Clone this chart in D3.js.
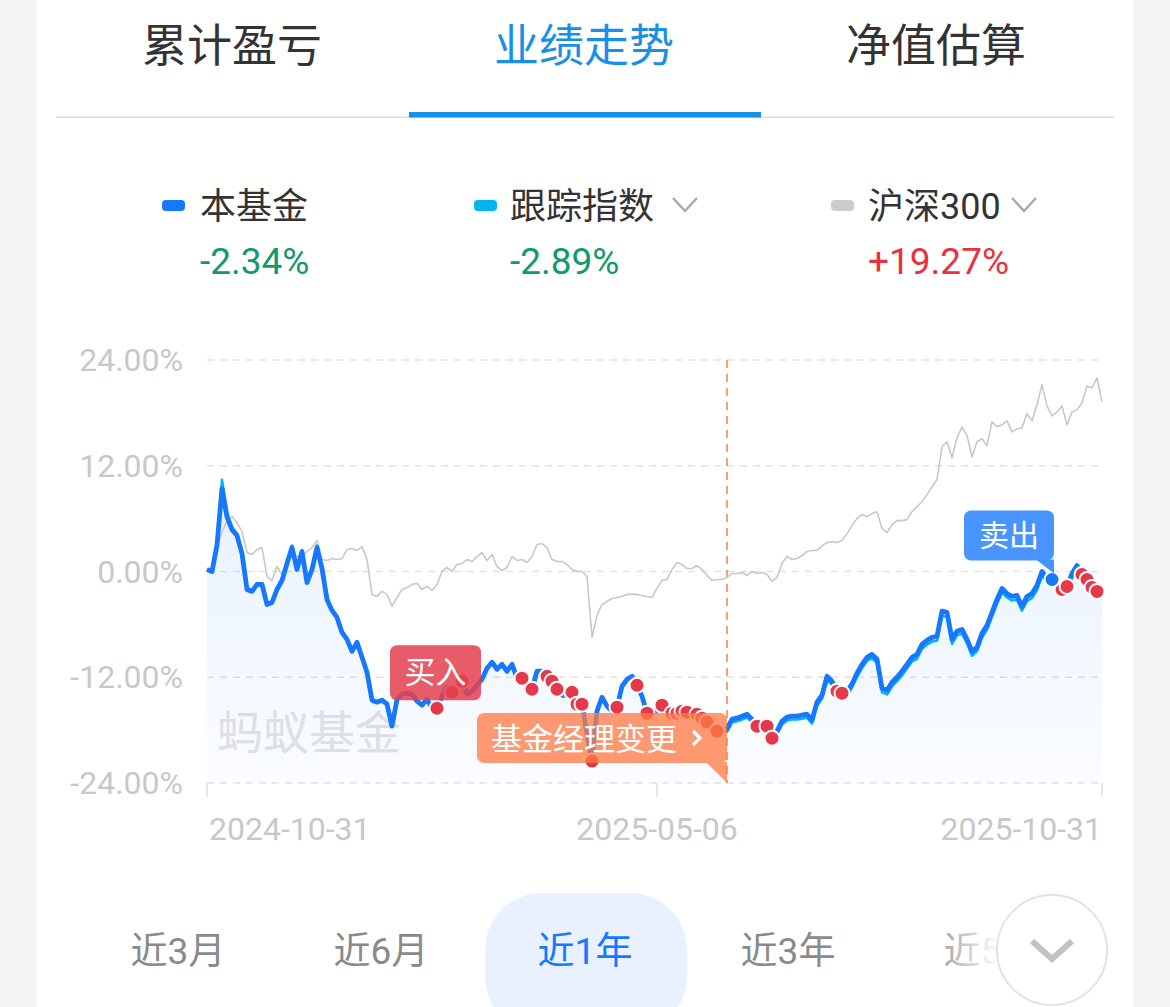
<!DOCTYPE html>
<html>
<head>
<meta charset="utf-8">
<script src="https://cdn.jsdelivr.net/npm/d3@7"></script>
<style>
  html, body { margin: 0; padding: 0; background: #f4f4f4; }
  svg { display: block; }
</style>
</head>
<body>
<svg id="chart" width="1170" height="1007"></svg>
<script>
// ---- data ----
const tabs = ["累计盈亏", "业绩走势", "净值估算"];
const activeTab = 1;

const seriesNames = ["本基金", "跟踪指数", "沪深300"];
const seriesReturns = ["-2.34%", "-2.89%", "+19.27%"];

const yTicks = [24, 12, 0, -12, -24];
const xTickDays = [0, 90, 179];
const xTickLabels = ["2024-10-31", "2025-05-06", "2025-10-31"];

// cumulative return (%) per trading day
const fund = [
  0.23, 0.00, 3.00, 9.40, 6.20, 4.75, 4.08, 2.04, -2.04, -2.26,
  -1.47, -1.47, -3.74, -3.51, -2.04, -1.02, 0.91, 2.72, 0.23, 2.26,
  -1.25, 0.23, 2.72, 0.34, -3.17, -4.42, -5.21, -6.91, -7.70, -9.06,
  -8.04, -9.74, -11.43, -14.60, -14.83, -14.60, -15.06, -17.55, -14.49, -13.92,
  -13.81, -13.92, -14.72, -15.17, -14.49, -15.51, -15.51, -14.15, -13.13, -13.70,
  -13.13, -12.45, -13.92, -13.58, -12.91, -12.23, -10.98, -10.30, -11.09, -10.53,
  -11.32, -10.53, -12.11, -12.11, -12.91, -13.36, -11.32, -11.32, -11.89, -12.45,
  -13.36, -14.04, -14.04, -13.70, -15.06, -15.06, -18.45, -21.51, -15.85, -14.26,
  -15.28, -15.85, -15.40, -13.02, -12.23, -11.89, -12.91, -14.15, -16.08, -16.08,
  -15.74, -15.17, -15.62, -16.08, -16.08, -15.85, -15.96, -15.85, -16.19, -16.64,
  -17.09, -17.55, -18.11, -17.89, -17.89, -16.75, -16.64, -16.42, -16.19, -16.75,
  -17.55, -17.09, -17.55, -18.91, -18.11, -16.98, -16.53, -16.42, -16.42, -16.30,
  -16.19, -16.87, -14.83, -14.04, -11.89, -12.45, -13.58, -13.81, -13.58, -12.79,
  -11.55, -10.53, -9.74, -9.40, -9.96, -13.25, -13.47, -12.57, -12.00, -11.32,
  -10.53, -9.74, -9.40, -8.26, -7.81, -7.47, -7.36, -4.50, -4.64, -7.70,
  -6.79, -6.57, -7.70, -9.06, -8.60, -7.02, -6.11, -4.64, -3.17, -1.92,
  -2.49, -2.83, -2.72, -3.96, -2.83, -2.49, -1.58, 0.00, -0.79, -0.91,
  -1.36, -2.04, -1.70, -0.23, 0.68, -0.34, -0.91, -1.81, -2.26, -2.34
];

const tracking = [
  0.23, 0.00, 3.20, 10.40, 6.70, 5.00, 4.30, 2.20, -1.90, -2.10,
  -1.35, -1.40, -3.60, -3.40, -1.90, -0.90, 1.05, 2.95, 0.35, 2.40,
  -1.10, 0.35, 2.95, 0.45, -3.05, -4.30, -5.10, -6.80, -7.60, -8.95,
  -7.95, -9.65, -11.35, -14.50, -14.75, -14.55, -15.00, -17.45, -14.45, -13.90,
  -13.80, -13.90, -14.70, -15.15, -14.50, -15.50, -15.50, -14.15, -13.15, -13.70,
  -13.15, -12.50, -13.95, -13.60, -12.95, -12.30, -11.05, -10.40, -11.15, -10.60,
  -11.40, -10.60, -12.15, -12.20, -12.95, -13.40, -11.40, -11.40, -11.95, -12.50,
  -13.45, -14.10, -14.10, -13.80, -15.15, -15.15, -18.60, -21.80, -16.00, -14.40,
  -15.40, -15.95, -15.50, -13.15, -12.35, -12.00, -13.05, -14.30, -16.25, -16.25,
  -15.90, -15.35, -15.80, -16.25, -16.25, -16.05, -16.15, -16.05, -16.40, -16.85,
  -17.35, -17.80, -18.40, -18.20, -18.20, -17.10, -17.00, -16.80, -16.55, -17.10,
  -17.90, -17.45, -17.90, -19.30, -18.50, -17.35, -16.90, -16.80, -16.80, -16.70,
  -16.60, -17.25, -15.25, -14.45, -12.30, -12.85, -13.95, -14.20, -13.95, -13.20,
  -11.95, -10.95, -10.15, -9.85, -10.40, -13.70, -13.95, -13.05, -12.45, -11.80,
  -11.00, -10.20, -9.90, -8.75, -8.30, -7.95, -7.85, -5.00, -5.15, -8.20,
  -7.25, -7.05, -8.15, -9.55, -9.05, -7.50, -6.60, -5.15, -3.65, -2.40,
  -2.95, -3.30, -3.20, -4.45, -3.35, -3.00, -2.10, -0.45, -1.30, -1.40,
  -1.85, -2.55, -2.20, -0.75, 0.15, -0.85, -1.45, -2.35, -2.80, -2.89
];

const hs300 = [
  0.23, 0.23, 2.72, 4.42, 5.77, 6.23, 5.55, 4.53, 2.15, 1.92,
  2.49, 2.72, -0.57, -1.02, 0.57, -0.34, 1.13, 2.04, 1.70, 1.58,
  2.26, 2.72, 3.51, 1.36, 1.25, 1.47, 1.36, 1.47, 2.49, 2.60,
  2.38, 2.83, 1.36, -2.60, -2.83, -2.26, -2.60, -3.96, -2.94, -2.04,
  -1.81, -1.47, -1.36, -2.04, -1.70, -2.15, -1.47, 0.00, 0.45, 0.00,
  0.79, 0.91, 1.36, 1.13, 1.70, 2.15, 1.25, 1.92, 0.57, 0.11,
  0.45, 1.70, 1.25, 1.36, 1.02, 1.70, 3.06, 3.17, 2.72, 1.36,
  1.13, 1.13, 0.79, 0.23, 0.00, 0.00, -0.57, -7.47, -4.98, -3.74,
  -3.40, -3.06, -2.94, -2.83, -2.60, -2.60, -2.60, -2.72, -2.83, -2.94,
  -1.92, -1.02, -0.91, 0.23, 1.02, 0.79, 0.34, 0.34, 0.68, 0.23,
  -0.45, -1.02, -0.91, -0.91, -0.68, -0.23, -0.23, -0.11, -0.45, 0.00,
  -0.23, -0.11, -0.34, -1.13, -0.68, 0.91, 1.70, 1.36, 1.47, 1.81,
  2.26, 2.38, 2.38, 2.94, 3.28, 3.40, 3.28, 3.51, 4.30, 5.21,
  6.00, 6.45, 6.23, 6.57, 6.79, 4.87, 4.42, 5.32, 5.77, 5.77,
  5.89, 6.79, 7.36, 7.92, 8.72, 9.62, 10.42, 14.15, 14.72, 12.91,
  15.17, 16.42, 15.40, 13.02, 14.72, 15.06, 14.26, 16.98, 16.42, 16.64,
  17.09, 15.85, 16.19, 16.30, 17.89, 17.09, 18.91, 21.20, 18.79, 17.66,
  18.11, 18.79, 16.64, 18.11, 18.34, 19.13, 21.06, 20.83, 21.96, 19.27
];

const buyDays = [46, 49, 51, 63, 65, 68, 69, 70, 73, 74, 75, 77, 82, 86, 88, 91, 93, 94,
  95, 96, 98, 99, 100, 102, 110, 112, 113, 126, 127, 171, 172, 175, 176, 177, 178];
const sellDays = [169];
const managerChangeDay = 104;

const periods = ["近3月", "近6月", "近1年", "近3年", "近5年"];
const activePeriod = 2;

// ---- drawing ----
const FONT = "Roboto, 'Noto Sans CJK SC', sans-serif";
const svg = d3.select("#chart").style("font-family", FONT);
const defs = svg.append("defs");

svg.append("rect").attr("width", 1170).attr("height", 1007).attr("fill", "#f4f4f4");
svg.append("rect").attr("x", 37).attr("width", 1096).attr("height", 1007).attr("fill", "#ffffff");

// tabs
const tabX = [232, 584, 936];
svg.selectAll("text.tab").data(tabs).join("text")
  .attr("class", "tab")
  .attr("x", (d, i) => tabX[i]).attr("y", 46)
  .attr("text-anchor", "middle").attr("dominant-baseline", "central")
  .attr("font-size", 45)
  .attr("fill", (d, i) => i === activeTab ? "#1a8fe6" : "#333333")
  .text(d => d);
svg.append("rect").attr("x", 56).attr("y", 116.5).attr("width", 1058).attr("height", 1.5).attr("fill", "#dcdcdc");
svg.append("rect").attr("x", 409).attr("y", 112).attr("width", 352).attr("height", 5.5).attr("fill", "#1a8fe6");

// legend
const legendColors = ["#1677ff", "#00b4f0", "#cccccc"];
const legendMarkX = [162, 474, 831];
const legendTextX = [200, 510, 868];
const legendChevron = [null, 673, 1012];
const returnColors = seriesReturns.map(s => s.startsWith("-") ? "#119a6b" : "#e8323f");
seriesNames.forEach((name, i) => {
  svg.append("rect").attr("x", legendMarkX[i]).attr("y", 200).attr("width", 23).attr("height", 11)
    .attr("rx", 4).attr("fill", legendColors[i]);
  svg.append("text").attr("x", legendTextX[i]).attr("y", 207)
    .attr("dominant-baseline", "central").attr("font-size", 36).attr("fill", "#333333").text(name);
  svg.append("text").attr("x", legendTextX[i]).attr("y", 261)
    .attr("dominant-baseline", "central").attr("font-size", 37).attr("fill", returnColors[i])
    .text(seriesReturns[i]);
  if (legendChevron[i] !== null) {
    const cx = legendChevron[i];
    svg.append("path").attr("d", `M${cx},198 L${cx + 12},211 L${cx + 24},198`)
      .attr("fill", "none").attr("stroke", "#a9a9a9").attr("stroke-width", 2.5);
  }
});

// scales
const x = d3.scaleLinear().domain([0, fund.length - 1]).range([207, 1102]);
const y = d3.scaleLinear().domain([-24, 24]).range([783, 360]);

// grid + y labels
const grid = svg.append("g");
grid.selectAll("line").data(yTicks).join("line")
  .attr("x1", x(0)).attr("x2", x(fund.length - 1))
  .attr("y1", d => y(d)).attr("y2", d => y(d))
  .attr("stroke", "#e2e2e2").attr("stroke-width", 1.5).attr("stroke-dasharray", "7,6");
grid.selectAll("text").data(yTicks).join("text")
  .attr("x", 183).attr("y", d => y(d))
  .attr("text-anchor", "end").attr("dominant-baseline", "central")
  .attr("font-size", 32).attr("fill", "#c8c8c8")
  .text(d => d.toFixed(2) + "%");

// x axis ticks + labels
const xAxis = svg.append("g");
xAxis.selectAll("line").data(xTickDays).join("line")
  .attr("x1", d => x(d)).attr("x2", d => x(d))
  .attr("y1", y(-24)).attr("y2", y(-24) + 14)
  .attr("stroke", "#dddddd").attr("stroke-width", 1.5);
xAxis.selectAll("text").data(xTickDays).join("text")
  .attr("x", (d, i) => x(d) + (i === 0 ? 2 : 0)).attr("y", 829)
  .attr("text-anchor", (d, i) => i === 0 ? "start" : (i === xTickDays.length - 1 ? "end" : "middle"))
  .attr("dominant-baseline", "central")
  .attr("font-size", 32).attr("fill", "#c8c8c8")
  .text((d, i) => xTickLabels[i]);

// watermark
svg.append("text").attr("x", 217).attr("y", 749)
  .attr("font-size", 46).attr("fill", "#e3e3e3").text("蚂蚁基金");

// area under fund line
const grad = defs.append("linearGradient").attr("id", "fundArea")
  .attr("gradientUnits", "userSpaceOnUse").attr("x1", 0).attr("x2", 0).attr("y1", 480).attr("y2", 783);
grad.append("stop").attr("offset", 0).attr("stop-color", "#1677ff").attr("stop-opacity", 0.1);
grad.append("stop").attr("offset", 1).attr("stop-color", "#1677ff").attr("stop-opacity", 0.02);
svg.append("path")
  .attr("d", d3.area().x((d, i) => x(i)).y0(y(-24)).y1(d => y(d))(fund))
  .attr("fill", "url(#fundArea)");

// manager change marker line
svg.append("line")
  .attr("x1", x(managerChangeDay)).attr("x2", x(managerChangeDay))
  .attr("y1", y(24)).attr("y2", y(-24))
  .attr("stroke", "#ff7a45").attr("stroke-width", 1.5).attr("stroke-dasharray", "8,6");

// series lines
const line = d3.line().x((d, i) => x(i)).y(d => y(d));
svg.append("path").attr("d", line(hs300)).attr("fill", "none")
  .attr("stroke", "#c8c8c8").attr("stroke-width", 1.6).attr("stroke-linejoin", "round");
svg.append("path").attr("d", line(tracking)).attr("fill", "none")
  .attr("stroke", "#00b4f0").attr("stroke-width", 2.6).attr("stroke-linejoin", "round");
svg.append("path").attr("d", line(fund)).attr("fill", "none")
  .attr("stroke", "#1677ff").attr("stroke-width", 4.8).attr("stroke-linejoin", "round");

// trade points
svg.selectAll("circle.buy").data(buyDays).join("circle")
  .attr("class", "buy")
  .attr("cx", d => x(d)).attr("cy", d => y(fund[d])).attr("r", 7.5)
  .attr("fill", "#e5394b").attr("stroke", "#ffffff").attr("stroke-width", 2);
svg.selectAll("circle.sell").data(sellDays).join("circle")
  .attr("class", "sell")
  .attr("cx", d => x(d)).attr("cy", d => y(fund[d])).attr("r", 7.5)
  .attr("fill", "#1677ff").attr("stroke", "#ffffff").attr("stroke-width", 2);

// tags
function tag(box, pointer, fill, opacity) {
  const g = svg.append("g").attr("opacity", opacity);
  g.append("rect").attr("x", box.x).attr("y", box.y).attr("width", box.w).attr("height", box.h)
    .attr("rx", 7).attr("fill", fill);
  if (pointer) g.append("path").attr("d", pointer).attr("fill", fill);
  return g;
}

// buy tag
{
  const ax = x(buyDays[0]), ay = y(fund[buyDays[0]]);
  const box = { x: ax - 47, y: ay - 63, w: 91, h: 55 };
  tag(box, null, "#e4404f", 0.86);
  svg.append("text").attr("x", box.x + box.w / 2).attr("y", box.y + box.h / 2)
    .attr("text-anchor", "middle").attr("dominant-baseline", "central")
    .attr("font-size", 31).attr("fill", "#ffffff").text("买入");
}

// manager change tag
{
  const ax = x(managerChangeDay), ay = y(-24);
  const box = { x: ax - 250, y: ay - 70, w: 250, h: 50 };
  const bottom = box.y + box.h;
  tag(box, `M${ax - 21},${bottom - 1} L${ax},${bottom - 1} L${ax},${ay} Z`, "#ff7a45", 0.76);
  svg.append("text").attr("x", box.x + 107).attr("y", box.y + box.h / 2 + 1)
    .attr("text-anchor", "middle").attr("dominant-baseline", "central")
    .attr("font-size", 31).attr("fill", "#ffffff").text("基金经理变更");
  svg.append("path")
    .attr("d", `M${box.x + 216},${box.y + 18} L${box.x + 223},${box.y + 25} L${box.x + 216},${box.y + 32}`)
    .attr("fill", "none").attr("stroke", "#ffffff").attr("stroke-width", 3.2);
}

// sell tag
{
  const ax = x(sellDays[0]), ay = y(fund[sellDays[0]]);
  const right = ax + 2;
  const box = { x: right - 90, y: ay - 69, w: 90, h: 50 };
  const bottom = box.y + box.h;
  tag(box, `M${right - 18},${bottom - 1} L${right},${bottom - 1} L${right},${ay - 6} Z`, "#1677ff", 0.78);
  svg.append("text").attr("x", box.x + box.w / 2).attr("y", box.y + box.h / 2)
    .attr("text-anchor", "middle").attr("dominant-baseline", "central")
    .attr("font-size", 30).attr("fill", "#ffffff").text("卖出");
}

// period selector
const periodX = [178, 381, 585, 788, 991];
svg.append("rect").attr("x", 485).attr("y", 893).attr("width", 202).attr("height", 140)
  .attr("rx", 57).attr("fill", "#e8f1fd");
svg.selectAll("text.period").data(periods).join("text")
  .attr("class", "period")
  .attr("x", (d, i) => periodX[i]).attr("y", 951)
  .attr("text-anchor", "middle").attr("dominant-baseline", "central")
  .attr("font-size", 37)
  .attr("fill", (d, i) => i === activePeriod ? "#1677ff" : "#8a8a8a")
  .text(d => d);

const fade = defs.append("linearGradient").attr("id", "fade").attr("x1", 0).attr("x2", 1).attr("y1", 0).attr("y2", 0);
fade.append("stop").attr("offset", 0).attr("stop-color", "#ffffff").attr("stop-opacity", 0);
fade.append("stop").attr("offset", 1).attr("stop-color", "#ffffff").attr("stop-opacity", 1);
svg.append("rect").attr("x", 925).attr("y", 890).attr("width", 75).attr("height", 117).attr("fill", "url(#fade)");
svg.append("rect").attr("x", 1000).attr("y", 890).attr("width", 133).attr("height", 117).attr("fill", "#ffffff");
svg.append("circle").attr("cx", 1052).attr("cy", 950).attr("r", 55)
  .attr("fill", "#ffffff").attr("stroke", "#e3e3e3").attr("stroke-width", 2);
svg.append("path").attr("d", "M1032,941 L1052,959 L1072,941")
  .attr("fill", "none").attr("stroke", "#c2c2c2").attr("stroke-width", 6);
</script>
</body>
</html>
